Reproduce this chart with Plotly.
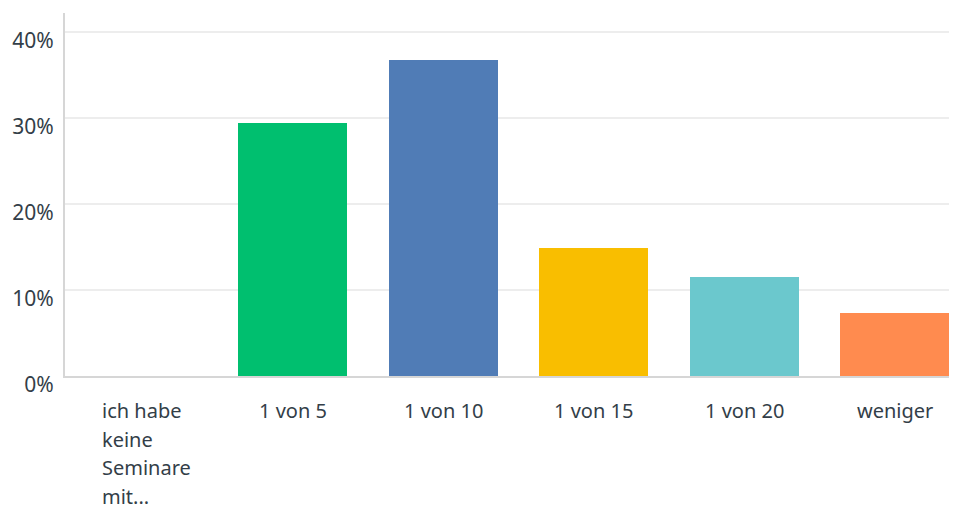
import plotly.graph_objects as go

categories = ["ich habe keine Seminare mit...", "1 von 5", "1 von 10", "1 von 15", "1 von 20", "weniger"]
values = [0.0, 29.41, 36.76, 14.88, 11.53, 7.35]
label_lines = [["ich habe", "keine", "Seminare", "mit..."], ["1 von 5"], ["1 von 10"], ["1 von 15"], ["1 von 20"], ["weniger"]]
colors = ["#00BF6F", "#00BF6F", "#507CB6", "#F9BE00", "#6BC8CD", "#FF8B4F"]
y_tick_vals = [0, 10, 20, 30, 40]
y_tick_text = ["0%", "10%", "20%", "30%", "40%"]

TEXT = "#333e48"
FONT = "Noto Sans"

fig = go.Figure()
fig.add_trace(go.Bar(
    x=categories, y=values, marker=dict(color=colors, line=dict(width=0)),
    width=0.724, hoverinfo="x+y",
))

annotations = []
for i, lines in enumerate(label_lines):
    if len(lines) == 1:
        annotations.append(dict(
            x=categories[i], y=0, xref="x", yref="paper", text=lines[0],
            showarrow=False, xanchor="center", yanchor="top", yshift=-19,
            font=dict(family=FONT, size=20, color=TEXT),
        ))
    else:
        for j, ln in enumerate(lines):
            annotations.append(dict(
                x=categories[i], y=0, xref="x", yref="paper", text=ln,
                showarrow=False, xanchor="left", yanchor="top",
                xshift=-42, yshift=-19 - 28.5 * j,
                font=dict(family=FONT, size=20, color=TEXT),
            ))

# the page body adds an 8px offset, so margins compensate for it
fig.update_layout(
    width=957, height=507,
    margin=dict(l=57, r=8, t=5, b=139),
    plot_bgcolor="white", paper_bgcolor="white",
    showlegend=False,
    bargap=0,
    annotations=annotations,
    xaxis=dict(
        type="category", range=[-0.512, 5.415],
        showticklabels=False, ticks="", showgrid=False,
        showline=True, linecolor="#d6d6d6", linewidth=2, zeroline=False,
    ),
    yaxis=dict(
        range=[0, 42.2], tickvals=y_tick_vals, ticktext=y_tick_text,
        showgrid=True, gridcolor="#ededed", gridwidth=2,
        showline=True, linecolor="#d6d6d6", linewidth=2, zeroline=False,
        ticks="", ticklabelstandoff=5, ticklabelshift=9,
        tickfont=dict(family=FONT, size=21, color=TEXT),
        automargin=False,
    ),
)

fig.write_html("out.html")
